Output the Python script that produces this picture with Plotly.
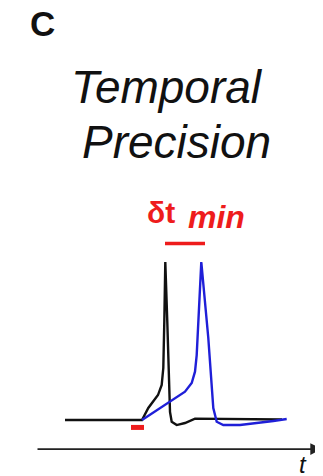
import plotly.graph_objects as go

# --- data (time in ms, membrane potential in mV) ---
black_t = [-3.85, 0.0, 0.315, 0.8, 0.985, 1.065, 1.115, 1.165, 1.265, 1.4, 1.485, 1.735, 2.15, 2.65, 7.0]
black_v = [-70, -70, -62.4, -54.2, -47.8, -37.1, -8.0, 30, -8.0, -64.9, -71.1, -73.2, -71.9, -69.1, -69.7]

blue_t = [0.0, 2.15, 2.485, 2.65, 2.735, 2.825, 2.965, 3.315, 3.565, 3.735, 4.065, 4.9, 5.735, 6.565, 7.235]
blue_v = [-70, -52.1, -46.6, -39.4, -28.9, -6.7, 30, -18.1, -62.4, -71.1, -73.2, -73.2, -72.1, -70.6, -69.4]

stim_t = [-0.55, 0.1]
stim_v = [-74.7, -74.7]

dt_t = [1.15, 3.15]
dt_v = [41.7, 41.7]

axis_t = [-5.3, 9.0]
axis_v = [-88.4, -88.4]

# page has an 8px body margin; size the figure to fit the window
OFF = 8
W, H = 323 - OFF, 476 - OFF
X_RANGE = [-6.7, 9.05]
Y_RANGE = [-105.44, 190.76]

fig = go.Figure()
fig.add_trace(go.Scatter(x=black_t, y=black_v, mode="lines",
                         line=dict(color="#111111", width=2.4), hoverinfo="skip"))
fig.add_trace(go.Scatter(x=blue_t, y=blue_v, mode="lines",
                         line=dict(color="#1f1fd8", width=2.4), hoverinfo="skip"))
fig.add_trace(go.Scatter(x=stim_t, y=stim_v, mode="lines",
                         line=dict(color="#ee1c1c", width=5), hoverinfo="skip"))
fig.add_trace(go.Scatter(x=dt_t, y=dt_v, mode="lines",
                         line=dict(color="#ee1c1c", width=3.5), hoverinfo="skip"))

# time axis arrow
fig.add_annotation(x=axis_t[1], y=axis_v[1], ax=axis_t[0], ay=axis_v[0],
                   xref="x", yref="y", axref="x", ayref="y",
                   showarrow=True, arrowhead=2, arrowsize=1.3, arrowwidth=1.8,
                   arrowcolor="#222222", text="")

def px(x):
    return (x - OFF) / W

def py(y):
    return 1 - (y - OFF) / H

FONT = "Arial, Liberation Sans, sans-serif"

def label(text, x, y, size, color="#111111", xanchor="center", yanchor="middle"):
    fig.add_annotation(text=text, x=px(x), y=py(y), xref="paper", yref="paper",
                       showarrow=False, xanchor=xanchor, yanchor=yanchor,
                       font=dict(family=FONT, size=size, color=color))

label("<b>C</b>", 28, 24, 35, xanchor="left")
label("<i>Temporal</i>", 167, 87, 46)
label("<i>Precision</i>", 176, 142, 46)
label("<b>δt</b>", 145, 212, 30, color="#ee1c1c", xanchor="left")
label("<b><i>min</i></b>", 186, 217, 32, color="#ee1c1c", xanchor="left")
label("<i>t</i>", 303, 464, 24)

fig.update_layout(
    width=W, height=H,
    margin=dict(l=0, r=0, t=0, b=0),
    paper_bgcolor="white", plot_bgcolor="white",
    showlegend=False,
    xaxis=dict(range=X_RANGE, visible=False, fixedrange=True),
    yaxis=dict(range=Y_RANGE, visible=False, fixedrange=True),
)

fig.write_html("out.html")
